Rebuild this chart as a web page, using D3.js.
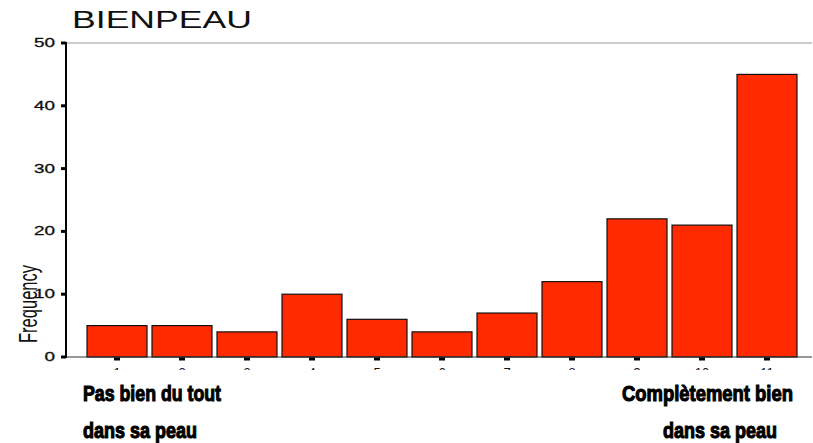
<!DOCTYPE html>
<html>
<head>
<meta charset="utf-8">
<script src="https://cdn.jsdelivr.net/npm/d3@7"></script>
<style>
  body { margin: 0; background: #fff; }
  svg { display: block; }
</style>
</head>
<body>
<svg id="chart" width="813" height="443"></svg>
<script>
// Chart data
var categories = ["1", "2", "3", "4", "5", "6", "7", "8", "9", "10", "11"];
var frequencies = [5, 5, 4, 10, 6, 4, 7, 12, 22, 21, 45];
var yTicks = [0, 10, 20, 30, 40, 50];
var title = "BIENPEAU";
var yLabel = "Frequency";
var leftNote = ["Pas bien du tout", "dans sa peau"];
var rightNote = ["Complètement bien", "dans sa peau"];

var svg = d3.select("#chart");

// Scales
var x = d3.scaleBand()
    .domain(categories)
    .range([84.5, 799.5])
    .paddingInner(0.077)
    .paddingOuter(0.0385);

var y = d3.scaleLinear()
    .domain([0, 50])
    .range([357, 43]);

var axisLeft = 66, axisRight = 812;

// Title
svg.append("text")
    .attr("x", 72)
    .attr("y", 28)
    .attr("font-family", "Liberation Sans, Arial, sans-serif")
    .attr("font-size", 23)
    .attr("textLength", 180)
    .attr("lengthAdjust", "spacingAndGlyphs")
    .attr("fill", "#111")
    .text(title);

// Top frame line
svg.append("line")
    .attr("x1", axisLeft).attr("x2", axisRight)
    .attr("y1", y(50)).attr("y2", y(50))
    .attr("stroke", "#999").attr("stroke-width", 1.2);

// Bars
svg.append("g")
    .selectAll("rect")
    .data(frequencies)
    .enter().append("rect")
    .attr("x", function (d, i) { return x(categories[i]); })
    .attr("y", function (d) { return y(d); })
    .attr("width", x.bandwidth())
    .attr("height", function (d) { return y(0) - y(d); })
    .attr("fill", "#ff2a00")
    .attr("stroke", "#111")
    .attr("stroke-width", 1.2);

// Baseline
svg.append("line")
    .attr("x1", axisLeft).attr("x2", axisRight)
    .attr("y1", y(0)).attr("y2", y(0))
    .attr("stroke", "#333").attr("stroke-width", 1.2);

// Y axis line
svg.append("line")
    .attr("x1", axisLeft).attr("x2", axisLeft)
    .attr("y1", y(50) - 1).attr("y2", y(0) + 1)
    .attr("stroke", "#000").attr("stroke-width", 2);

// Y ticks
var yg = svg.append("g");
yg.selectAll("rect")
    .data(yTicks)
    .enter().append("rect")
    .attr("x", axisLeft - 5)
    .attr("y", function (d) { return y(d) - 1.5; })
    .attr("width", 5)
    .attr("height", 3)
    .attr("fill", "#000");

yg.selectAll("text")
    .data(yTicks)
    .enter().append("text")
    .attr("x", 55)
    .attr("y", function (d) { return y(d) + 4; })
    .attr("text-anchor", "end")
    .attr("font-family", "Liberation Sans, Arial, sans-serif")
    .attr("font-size", 12)
    .attr("textLength", function (d) { return String(d).length * 10.5; })
    .attr("lengthAdjust", "spacingAndGlyphs")
    .attr("stroke", "#111")
    .attr("stroke-width", 0.3)
    .attr("fill", "#111")
    .text(function (d) { return d; });

// X ticks (small squares under baseline)
svg.append("g")
    .selectAll("rect")
    .data(categories)
    .enter().append("rect")
    .attr("x", function (d) { return x(d) + x.bandwidth() / 2 - 3; })
    .attr("y", y(0) + 0.5)
    .attr("width", 6)
    .attr("height", 3)
    .attr("fill", "#000");

// X tick labels, mostly hidden as in the original
svg.append("clipPath")
    .attr("id", "tickclip")
    .append("rect")
    .attr("x", 0).attr("y", y(0) + 4)
    .attr("width", 813).attr("height", 9);

svg.append("g")
    .attr("clip-path", "url(#tickclip)")
    .selectAll("text")
    .data(categories)
    .enter().append("text")
    .attr("x", function (d) { return x(d) + x.bandwidth() / 2; })
    .attr("y", 377)
    .attr("text-anchor", "middle")
    .attr("font-family", "Liberation Sans, Arial, sans-serif")
    .attr("font-size", 13)
    .attr("fill", "#111")
    .text(function (d) { return d; });

// Y axis title
svg.append("text")
    .attr("transform", "translate(37,304) rotate(-90)")
    .attr("text-anchor", "middle")
    .attr("font-family", "Liberation Sans, Arial, sans-serif")
    .attr("font-size", 26)
    .attr("textLength", 78)
    .attr("lengthAdjust", "spacingAndGlyphs")
    .attr("fill", "#111")
    .text(yLabel);

// Bold end notes
function note(lines, xs, widths) {
    lines.forEach(function (t, i) {
        svg.append("text")
            .attr("x", xs[i])
            .attr("y", i === 0 ? 401 : 438)
            .attr("font-family", "Liberation Sans Narrow, Arial Narrow, sans-serif")
            .attr("font-weight", "bold")
            .attr("font-size", 22)
            .attr("textLength", widths[i])
            .attr("lengthAdjust", "spacingAndGlyphs")
            .attr("stroke", "#000")
            .attr("stroke-width", 1.1)
            .attr("fill", "#000")
            .text(t);
    });
}
note(leftNote, [83, 83], [138, 114]);
note(rightNote, [622, 663], [171, 114]);
</script>
</body>
</html>
